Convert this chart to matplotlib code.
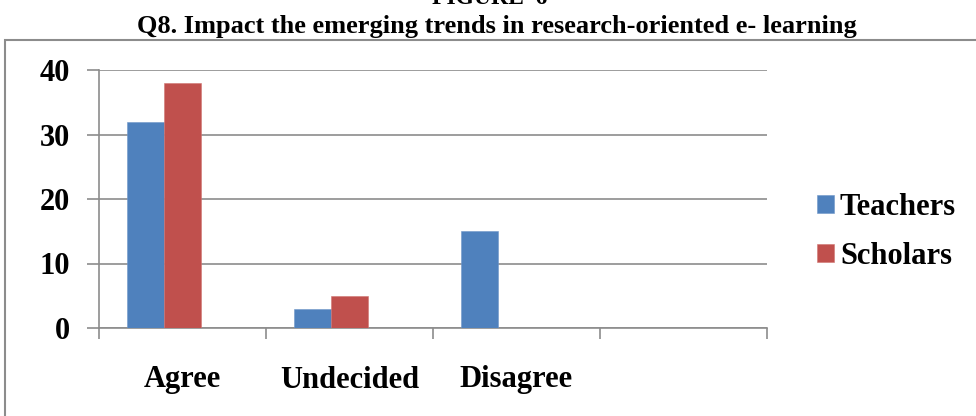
import matplotlib
matplotlib.use("Agg")
import matplotlib.pyplot as plt
import numpy as np
from matplotlib.patches import Rectangle

categories = ["Agree", "Undecided", "Disagree", ""]
teachers = [32, 3, 15, 0]
scholars = [38, 5, 0, 0]
series_names = ["Teachers", "Scholars"]
colors = ["#4F81BD", "#C0504D"]
yticks = [0, 10, 20, 30, 40]

plt.rcParams["font.family"] = ["Liberation Serif", "DejaVu Serif"]
plt.rcParams["font.weight"] = "bold"

fig = plt.figure(figsize=(9.76, 4.16), dpi=100)
W, H = 976, 416

# outer chart frame
fig.patches.append(Rectangle((5 / W, -0.05), 1.0, 1 - 40 / H + 0.05,
                             transform=fig.transFigure, fill=False,
                             edgecolor="#8c8c8c", linewidth=1.5))

fig.text(490 / W, 1 + 2 / H, "FIGURE  6", ha="center", va="center",
         fontsize=17, fontweight="bold")
fig.text(497 / W, 1 - 27 / H,
         "Q8. Impact the emerging trends in research-oriented e- learning",
         ha="center", va="center", fontsize=19, fontweight="bold")

ax = fig.add_axes([99 / W, 1 - 328 / H, (767 - 99) / W, (328 - 70) / H])
x = np.arange(len(categories))
bw = 0.222
# slots are laid out for three bars per group, only two series drawn
ax.bar(x - bw, teachers, bw, color=colors[0], label=series_names[0],
       edgecolor="#6f97c9", linewidth=0.4, zorder=3)
ax.bar(x, scholars, bw, color=colors[1], label=series_names[1],
       edgecolor="#d07572", linewidth=0.4, zorder=3)

ax.set_xlim(-0.5, len(categories) - 0.5)
ax.set_ylim(0, 40)
ax.set_yticks(yticks)
ax.yaxis.grid(True, color="#8c8c8c", linewidth=1.2, zorder=0)
ax.tick_params(axis="y", length=9, width=1.2, color="#8c8c8c",
               labelsize=22, pad=12)
for lab in ax.get_yticklabels():
    lab.set_fontweight("bold")

ax.set_xticks(np.arange(-0.5, len(categories), 1.0))
ax.set_xticklabels([])
ax.tick_params(axis="x", which="major", length=8, width=1.2, color="#8c8c8c")
ax.set_xticks(x, minor=True)
ax.set_xticklabels(categories, minor=True, fontsize=22, fontweight="bold")
ax.tick_params(axis="x", which="minor", length=0, pad=27)

for s in ["top", "right"]:
    ax.spines[s].set_visible(False)
for s in ["left", "bottom"]:
    ax.spines[s].set_color("#8c8c8c")
    ax.spines[s].set_linewidth(1.2)

leg = fig.legend(loc="center left", bbox_to_anchor=(817 / W, 1 - 232 / H),
                 frameon=False, prop={"size": 22, "weight": "bold"},
                 handlelength=0.55, handleheight=0.55, handletextpad=0.2,
                 labelspacing=0.65, borderpad=0, borderaxespad=0)

fig.savefig("out.png", dpi=100)
